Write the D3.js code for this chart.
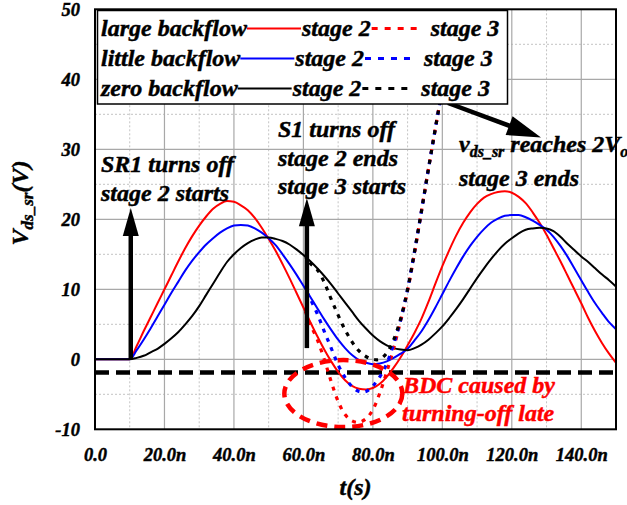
<!DOCTYPE html>
<html>
<head>
<meta charset="utf-8">
<script src="https://cdn.jsdelivr.net/npm/d3@7/dist/d3.min.js"></script>
<style>
  html, body { margin: 0; padding: 0; background: #fff; }
  svg { display: block; }
</style>
</head>
<body>
<svg id="chart" width="627" height="505"></svg>
<script>
// ---------------- data ----------------
const xTicks = [0, 20, 40, 60, 80, 100, 120, 140];
const xTickLabels = ["0.0", "20.0n", "40.0n", "60.0n", "80.0n", "100.0n", "120.0n", "140.0n"];
const yTicks = [-10, 0, 10, 20, 30, 40, 50];
const yTickLabels = ["-10", "0", "10", "20", "30", "40", "50"];

// stage 2 (solid) time axis, ns
const tStage2 = [0, 10, 12, 14, 16, 18, 20, 22, 24, 26, 28, 30, 32, 34, 36, 38, 40, 42, 44, 46, 48, 50,
  52, 54, 56, 58, 60, 62, 64, 66, 68, 70, 72, 74, 76, 78, 80, 82, 84, 86, 88, 90, 92, 94, 96, 98, 100,
  102, 104, 106, 108, 110, 112, 114, 116, 118, 120, 122, 124, 126, 128, 130, 132, 134, 136, 138, 140,
  142, 144, 146, 148, 150];
const vLargeStage2 = [0, 0, 1.9, 4.0, 6.0, 8.0, 10.0, 12.0, 14.0, 15.9, 17.6, 19.1, 20.4, 21.5, 22.2, 22.6, 22.5, 22.0,
  21.3, 20.2, 18.8, 17.2, 15.5, 13.6, 11.6, 9.5, 7.4, 5.3, 3.3, 1.4, -0.3, -1.8, -3.0, -3.8, -4.2, -4.3, -4.1,
  -3.5, -2.5, -1.2, 0.3, 2.0, 3.8, 5.8, 8.2, 10.8, 13.3, 15.6, 17.7, 19.5, 21.0, 22.2, 23.1, 23.6, 23.9, 24.0,
  23.8, 23.2, 22.3, 21.0, 19.5, 17.8, 15.9, 14.0, 12.0, 10.0, 8.0, 5.9, 4.0, 2.3, 0.8, -0.5];
const vLittleStage2 = [0, 0, 1.3, 2.8, 4.4, 6.1, 7.8, 9.5, 11.1, 12.7, 14.1, 15.3, 16.4, 17.3, 18.1, 18.7, 19.1, 19.2,
  19.1, 18.7, 18.1, 17.3, 16.3, 15.0, 13.6, 12.1, 10.5, 8.9, 7.3, 5.7, 4.2, 2.8, 1.6, 0.6, -0.1, -0.5, -0.7,
  -0.6, -0.3, 0.2, 0.8, 1.5, 2.7, 4.0, 5.6, 7.4, 9.3, 11.2, 13.0, 14.7, 16.2, 17.5, 18.6, 19.5, 20.1, 20.5,
  20.6, 20.6, 20.3, 19.8, 19.2, 18.5, 17.5, 16.2, 14.7, 13.0, 11.3, 9.6, 8.0, 6.6, 5.3, 4.3];
const vZeroStage2 = [0, 0, 0.2, 0.5, 1.0, 1.5, 2.2, 3.0, 3.9, 5.0, 6.2, 7.6, 9.2, 10.8, 12.4, 13.9, 15.0, 15.9,
  16.6, 17.1, 17.4, 17.4, 17.2, 16.9, 16.4, 15.7, 14.9, 14.0, 13.0, 11.9, 10.7, 9.4, 8.1, 6.8, 5.5, 4.4, 3.4,
  2.6, 2.0, 1.6, 1.4, 1.3, 1.6, 2.1, 2.8, 3.7, 4.7, 5.9, 7.2, 8.6, 10.1, 11.6, 13.0, 14.3, 15.5, 16.5,
  17.3, 18.0, 18.5, 18.7, 18.8, 18.7, 18.3, 17.5, 16.5, 15.6, 14.7, 13.9, 13.0, 12.1, 11.3, 10.4];

// stage 3 (dotted) time axis, ns
const tStage3 = [60.6, 62, 64, 66, 68, 70, 72, 74, 76, 78, 80, 82, 84, 86, 88, 90, 92, 94, 96, 98, 100, 102, 104];
const vLargeStage3 = [6.8, 5.0, 2.8, 0.0, -3.2, -6.0, -7.9, -8.8, -9.0, -8.5, -7.2, -4.8, -1.8, 1.6, 5.5, 9.8,
  15.2, 21.2, 27.2, 33.0, 38.8, 45.5, 52];
const vLittleStage3 = [10.0, 8.6, 6.5, 4.0, 1.6, -0.8, -2.6, -3.9, -4.6, -4.6, -3.8, -2.5, -0.6, 2.2, 5.6, 10.0,
  15.4, 21.2, 27.2, 33.0, 38.8, 45.5, 52];
const vZeroStage3 = [14.6, 13.7, 12.8, 11.0, 8.6, 6.3, 4.2, 2.5, 1.2, 0.4, 0.0, 0.0, 0.9, 2.8, 5.8, 10.0,
  15.4, 21.2, 27.2, 33.0, 38.8, 45.5, 52];

const bdcLevel = -1.9;   // dashed reference line

const seriesNames = ["large backflow", "little backflow", "zero backflow"];
const seriesColors = ["#ff0000", "#0000ff", "#000000"];

// ---------------- drawing ----------------
const FONT = "'Liberation Serif', 'Times New Roman', Times, 'DejaVu Serif', serif";
function styleText(sel, size, color) {
  const c = color || "#000";
  return sel.attr("font-family", FONT).attr("font-weight", "bold").attr("font-style", "italic")
    .attr("font-size", size).attr("fill", c).attr("stroke", c).attr("stroke-width", 0.45);
}

const svg = d3.select("#chart");
const L = 95, R = 616, T = 9.3, B = 429.3;
const x = d3.scaleLinear().domain([0, 150]).range([L, R]);
const y = d3.scaleLinear().domain([-10, 50]).range([B, T]);

svg.append("defs").append("clipPath").attr("id", "clip")
  .append("rect").attr("x", L).attr("y", T).attr("width", R - L).attr("height", B - T);

// grid
const grid = svg.append("g");
const minorX = d3.range(10, 151, 20), minorY = d3.range(-5, 50, 10);
grid.selectAll(".mx").data(minorX).join("line")
  .attr("x1", d => x(d)).attr("x2", d => x(d)).attr("y1", T).attr("y2", B)
  .attr("stroke", "#c4c4c4").attr("stroke-width", 1).attr("stroke-dasharray", "2,2");
grid.selectAll(".my").data(minorY).join("line")
  .attr("y1", d => y(d)).attr("y2", d => y(d)).attr("x1", L).attr("x2", R)
  .attr("stroke", "#c4c4c4").attr("stroke-width", 1).attr("stroke-dasharray", "2,2");
grid.selectAll(".Mx").data(xTicks.slice(1)).join("line")
  .attr("x1", d => x(d)).attr("x2", d => x(d)).attr("y1", T).attr("y2", B)
  .attr("stroke", "#a8a8a8").attr("stroke-width", 1.2);
grid.selectAll(".My").data(yTicks.slice(1, -1)).join("line")
  .attr("y1", d => y(d)).attr("y2", d => y(d)).attr("x1", L).attr("x2", R)
  .attr("stroke", "#a8a8a8").attr("stroke-width", 1.2);

// axes (labels via d3 axes)
const xAxis = d3.axisBottom(x).tickValues(xTicks).tickFormat((d, i) => xTickLabels[i]).tickSize(0).tickPadding(0);
const gx = svg.append("g").attr("transform", `translate(0,${B})`).call(xAxis);
gx.attr("font-family", null).attr("font-size", null);
gx.select(".domain").remove();
styleText(gx.selectAll("text"), 18.5).attr("dy", null).attr("y", 31.5);

const yAxis = d3.axisLeft(y).tickValues(yTicks).tickFormat((d, i) => yTickLabels[i]).tickSize(0).tickPadding(0);
const gy = svg.append("g").attr("transform", `translate(80,0)`).call(yAxis);
gy.attr("font-family", null).attr("font-size", null);
gy.select(".domain").remove();
styleText(gy.selectAll("text"), 18.5).attr("dy", "0.33em").attr("x", 0);

// dashed reference line
const plot = svg.append("g").attr("clip-path", "url(#clip)");
plot.append("line").attr("x1", x(0)).attr("x2", x(150)).attr("y1", y(bdcLevel)).attr("y2", y(bdcLevel))
  .attr("stroke", "#000").attr("stroke-width", 4.5).attr("stroke-dasharray", "14,7");

const line = d3.line().x(d => x(d[0])).y(d => y(d[1])).curve(d3.curveMonotoneX);

// stage 2 solid curves
const stage2 = [vLargeStage2, vLittleStage2, vZeroStage2];
stage2.forEach((vals, i) => {
  plot.append("path").datum(tStage2.map((t, j) => [t, vals[j]]))
    .attr("d", line).attr("fill", "none").attr("stroke", seriesColors[i]).attr("stroke-width", 2);
});

// stage 3 dotted curves
const stage3 = [vLargeStage3, vLittleStage3, vZeroStage3];
const line3 = d3.line().x(d => x(d[0])).y(d => y(d[1])).curve(d3.curveCatmullRom);
stage3.forEach((vals, i) => {
  plot.append("path").datum(tStage3.map((t, j) => [t, vals[j]]))
    .attr("d", line3).attr("fill", "none").attr("stroke", seriesColors[i]).attr("stroke-width", 3.2)
    .attr("stroke-dasharray", "4,6").attr("stroke-dashoffset", -3.3 * i);
});

// BDC ellipse
svg.append("ellipse").attr("cx", x(71.5)).attr("cy", y(-4.9)).attr("rx", 59).attr("ry", 33.5)
  .attr("fill", "none").attr("stroke", "#ff0000").attr("stroke-width", 4.5).attr("stroke-dasharray", "11,7");

// frame
svg.append("rect").attr("x", L).attr("y", T).attr("width", R - L).attr("height", B - T)
  .attr("fill", "none").attr("stroke", "#000").attr("stroke-width", 2);

// vertical arrows
function vArrow(t, v0, v1) {
  const ax = x(t), y0 = y(v0), tip = y(v1);
  svg.append("line").attr("x1", ax).attr("x2", ax).attr("y1", y0).attr("y2", tip + 24)
    .attr("stroke", "#000").attr("stroke-width", 4.5);
  svg.append("path").attr("d", `M${ax},${tip} L${ax - 8},${tip + 28} L${ax + 8},${tip + 28} Z`).attr("fill", "#000");
}
vArrow(10.3, 0, 21.6);
vArrow(61, 1.6, 23);

// diagonal arrow from legend
(function () {
  const x0 = 448, y0 = 103, x1 = 541, y1 = 137.5;
  const ang = Math.atan2(y1 - y0, x1 - x0);
  const hl = 34, hw = 10;
  const bx = x1 - hl * Math.cos(ang), by = y1 - hl * Math.sin(ang);
  svg.append("line").attr("x1", x0).attr("y1", y0).attr("x2", bx + 2 * Math.cos(ang)).attr("y2", by + 2 * Math.sin(ang))
    .attr("stroke", "#000").attr("stroke-width", 4.5);
  const px = -Math.sin(ang) * hw, py = Math.cos(ang) * hw;
  svg.append("path").attr("d", `M${x1},${y1} L${bx + px},${by + py} L${bx - px},${by - py} Z`).attr("fill", "#000");
})();

// legend
const leg = svg.append("g");
leg.append("rect").attr("x", 97.5).attr("y", 10.5).attr("width", 410).attr("height", 93.5)
  .attr("fill", "#fff").attr("stroke", "#000").attr("stroke-width", 1.5);
const rowY = [36, 66, 96];
seriesNames.forEach((name, i) => {
  const by = rowY[i], ly = by - 7.5;
  const t1 = styleText(leg.append("text"), 24).attr("x", 101).attr("y", by).text(name);
  const e1 = 101 + t1.node().getComputedTextLength();
  leg.append("line").attr("x1", e1).attr("x2", e1 + 54).attr("y1", ly).attr("y2", ly)
    .attr("stroke", seriesColors[i]).attr("stroke-width", 2);
  const t2 = styleText(leg.append("text"), 24).attr("x", e1 + 55).attr("y", by).text("stage 2");
  const e2 = e1 + 55 + t2.node().getComputedTextLength();
  leg.append("line").attr("x1", e2 + 1).attr("x2", e2 + 52).attr("y1", ly).attr("y2", ly)
    .attr("stroke", seriesColors[i]).attr("stroke-width", 3).attr("stroke-dasharray", "6,7");
  styleText(leg.append("text"), 24).attr("x", e2 + 60).attr("y", by).text("stage 3");
});

// annotations
function txt(s, tx, ty, color) {
  return styleText(svg.append("text"), 24, color).attr("x", tx).attr("y", ty).text(s);
}
txt("SR1 turns off", 101, 172);
txt("stage 2 starts", 101, 201);
txt("S1 turns off", 278, 137);
txt("stage 2 ends", 278, 166);
txt("stage 3 starts", 278, 194);
txt("stage 3 ends", 459, 186);
txt("BDC caused by", 403, 393, "#ff0000");
txt("turning-off late", 402, 421, "#ff0000");

const vt = styleText(svg.append("text"), 24).attr("x", 459).attr("y", 152);
vt.append("tspan").text("v");
vt.append("tspan").attr("font-size", 16).attr("dy", 5).text("ds_sr");
vt.append("tspan").attr("dy", -5).text(" reaches 2V");
vt.append("tspan").attr("font-size", 16).attr("dy", 5).text("o");

// axis titles
const yt = styleText(svg.append("text"), 24)
  .attr("transform", "translate(28,203) rotate(-90)").attr("text-anchor", "middle");
yt.append("tspan").text("V");
yt.append("tspan").attr("font-size", 17).attr("dy", 5).text("ds_sr");
yt.append("tspan").attr("dy", -5).text("(V)");

styleText(svg.append("text"), 24).attr("x", x(75)).attr("y", 495)
  .attr("text-anchor", "middle").text("t(s)");
</script>
</body>
</html>
